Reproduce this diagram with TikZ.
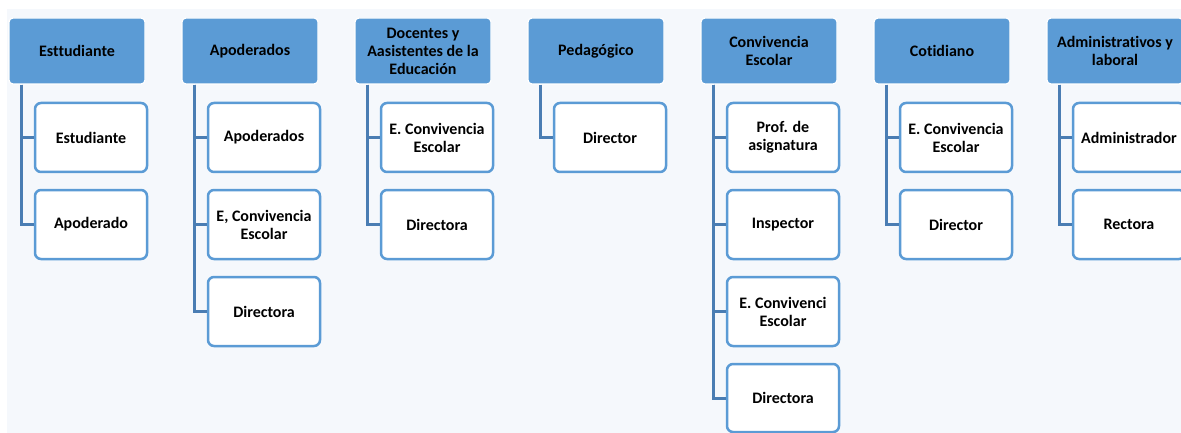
\documentclass[tikz,border=0pt]{standalone}
\usepackage{fontspec}
\setmainfont[Ligatures=NoCommon]{Carlito}
\definecolor{bgc}{HTML}{F5F8FC}
\definecolor{hdr}{HTML}{5B9BD5}
\definecolor{conn}{HTML}{4A7DB3}
\definecolor{cbord}{HTML}{5B9BD5}
\tikzset{
  hdrbox/.style={draw=white, line width=1.2pt, fill=hdr, rounded corners=4pt,
    minimum width=136pt, minimum height=66pt, inner sep=1pt, align=center,
    font=\fontsize{16}{18}\selectfont\bfseries, text=black},
  kidbox/.style={draw=cbord, line width=2.5pt, fill=white, rounded corners=6pt,
    minimum width=112pt, minimum height=69pt, inner sep=1pt, align=center,
    font=\fontsize{16}{18}\selectfont\bfseries, text=black},
  link/.style={draw=conn, line width=3pt}
}
\begin{document}
\begin{tikzpicture}[x=1pt,y=-1pt]
\useasboundingbox (0,0) rectangle (1181,433);
\clip (0,0) rectangle (1181,433);
\fill[bgc] (7,9) rectangle (1181,433);
% column 1
\node[hdrbox] (h1) at (77,51) {Esttudiante};
\node[kidbox] (c11) at (91,137.5) {Estudiante};
\node[kidbox] (c12) at (91,224.5) {Apoderado};
% column 2
\node[hdrbox] (h2) at (250,51) {Apoderados};
\node[kidbox] (c21) at (264,137.5) {Apoderados};
\node[kidbox] (c22) at (264,224.5) {E, Convivencia\\Escolar};
\node[kidbox] (c23) at (264,311.5) {Directora};
% column 3
\node[hdrbox] (h3) at (423,51) {Docentes y\\Aasistentes de la\\Educación};
\node[kidbox] (c31) at (437,137.5) {E. Convivencia\\Escolar};
\node[kidbox] (c32) at (437,224.5) {Directora};
% column 4
\node[hdrbox] (h4) at (596,51) {Pedagógico};
\node[kidbox] (c41) at (610,137.5) {Director};
% column 5
\node[hdrbox] (h5) at (769,51) {Convivencia\\Escolar};
\node[kidbox] (c51) at (783,137.5) {Prof. de\\asignatura};
\node[kidbox] (c52) at (783,224.5) {Inspector};
\node[kidbox] (c53) at (783,311.5) {E. Convivenci\\Escolar};
\node[kidbox, minimum height=68pt] (c54) at (783,398) {Directora};
% column 6
\node[hdrbox] (h6) at (942,51) {Cotidiano};
\node[kidbox] (c61) at (956,137.5) {E. Convivencia\\Escolar};
\node[kidbox] (c62) at (956,224.5) {Director};
% column 7
\node[hdrbox] (h7) at (1115,51) {Administrativos y\\laboral};
\node[kidbox] (c71) at (1129,137.5) {Administrador};
\node[kidbox] (c72) at (1129,224.5) {Rectora};
% connectors
\foreach \h/\kids in {h1/{c11,c12}, h2/{c21,c22,c23}, h3/{c31,c32}, h4/{c41}, h5/{c51,c52,c53,c54}, h6/{c61,c62}, h7/{c71,c72}}{
  \foreach \k in \kids {
    \draw[link] ([xshift=13pt]\h.south west) |- (\k.west);
  }
}
\end{tikzpicture}
\end{document}
